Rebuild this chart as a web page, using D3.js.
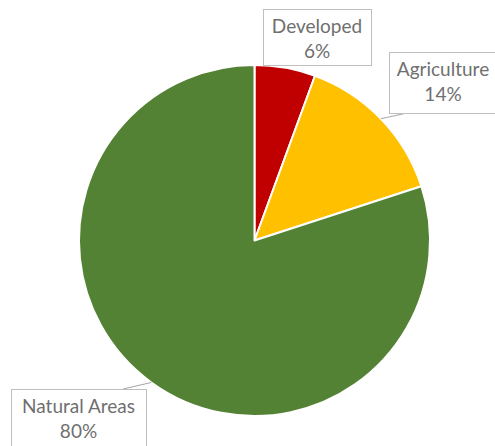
<!DOCTYPE html>
<html><head><meta charset="utf-8">
<script src="https://cdn.jsdelivr.net/npm/d3@7"></script>
<style>html,body{margin:0;padding:0;background:#fff;overflow:hidden}</style>
</head><body>
<svg id="chart" width="495" height="446"></svg>
<script>
const categories = ["Developed", "Agriculture", "Natural Areas"];
const values = [5.6, 14.4, 80.0];
const percentLabels = ["6%", "14%", "80%"];
const colors = ["#C00000", "#FFC000", "#548235"];

const svg = d3.select("#chart");
const cx = 254.5, cy = 240.5, R = 175.5;
const g = svg.append("g").attr("transform", `translate(${cx},${cy})`);

const pie = d3.pie().sort(null).value(d => d.v);
const data = pie(categories.map((c, i) => ({c, v: values[i], p: percentLabels[i], col: colors[i]})));
const arc = d3.arc().innerRadius(0).outerRadius(R);

g.selectAll("path.slice").data(data).join("path")
  .attr("class", "slice")
  .attr("d", arc)
  .attr("fill", d => d.data.col)
  .attr("stroke", "#fff")
  .attr("stroke-width", 2)
  .attr("stroke-linejoin", "round");

// label boxes (layout, in page coords)
const boxes = [
  {x: 263, y: 9, w: 108, h: 56, leader: null},
  {x: 389, y: 52, w: 108, h: 61, leader: [407, 113]},
  {x: 11, y: 389, w: 135, h: 60, leader: [123, 389]}
];

const lab = svg.append("g");
data.forEach((d, i) => {
  const b = boxes[i];
  const mid = (d.startAngle + d.endAngle) / 2;
  if (b.leader) {
    const px = cx + R * Math.sin(mid), py = cy - R * Math.cos(mid);
    lab.append("path")
      .attr("d", `M${px},${py}L${b.leader[0]},${b.leader[1]}`)
      .attr("stroke", "#a6a6a6").attr("stroke-width", 1).attr("fill", "none");
  }
  lab.append("rect").attr("x", b.x + 0.5).attr("y", b.y + 0.5).attr("width", b.w).attr("height", b.h)
    .attr("fill", "#fff").attr("stroke", "#bfbfbf").attr("stroke-width", 1);
  const t = lab.append("text")
    .attr("x", b.x + b.w / 2)
    .attr("text-anchor", "middle")
    .attr("font-family", "Lato, 'Open Sans', sans-serif")
    .attr("font-size", 19)
    .attr("fill", "#6f6f6f");
  t.append("tspan").attr("x", b.x + b.w / 2).attr("y", b.y + 24).text(d.data.c);
  t.append("tspan").attr("x", b.x + b.w / 2).attr("y", b.y + 49).text(d.data.p);
});
</script>
</body></html>
